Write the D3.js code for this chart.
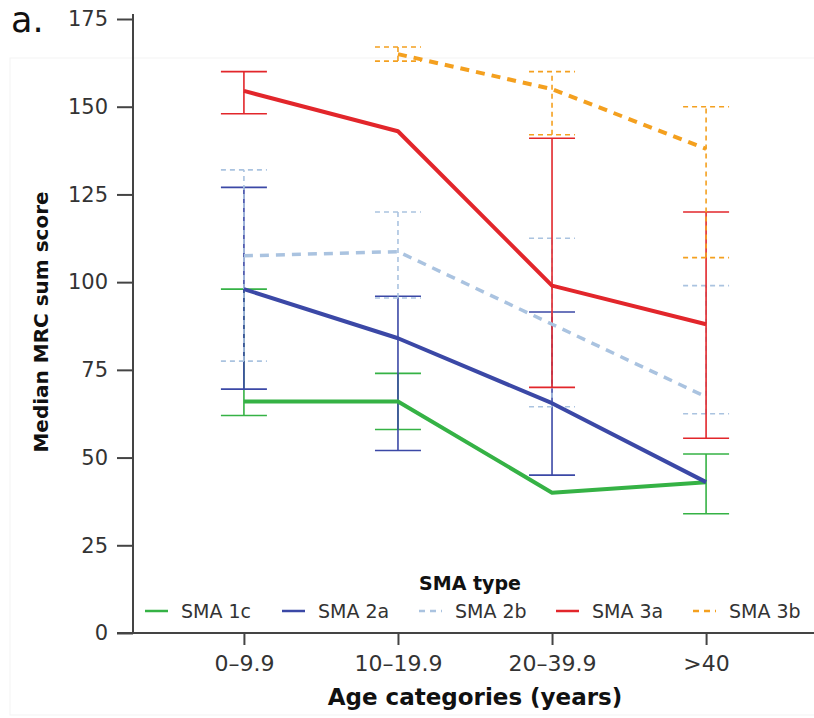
<!DOCTYPE html>
<html>
<head>
<meta charset="utf-8">
<script src="https://cdn.jsdelivr.net/npm/d3@7"></script>
<style>
  body { margin: 0; background: #fff; }
  svg { font-family: "DejaVu Sans", sans-serif; }
</style>
</head>
<body>
<svg width="814" height="718"></svg>
<script>
// age groups on the x axis
const ageGroups = ["0\u20139.9", "10\u201319.9", "20\u201339.9", ">40"];
const yTicks = [0, 25, 50, 75, 100, 125, 150, 175];

// medians and error bar ends per SMA type (null = not shown)
const sma1c = [66, 66, 40, 43];
const sma1cLo = [62, 58, null, 34];
const sma1cHi = [98, 74, null, 51];

const sma2a = [98, 84, 65.5, 43];
const sma2aLo = [69.5, 52, 45, null];
const sma2aHi = [127, 96, 91.5, null];

const sma2b = [107.5, 108.7, 88, 67.3];
const sma2bLo = [77.5, 95.5, 64.5, 62.5];
const sma2bHi = [132, 120, 112.5, 99];

const sma3a = [154.5, 143, 99, 88];
const sma3aLo = [148, null, 70, 55.5];
const sma3aHi = [160, null, 141, 120];

const sma3b = [null, 165, 155, 138];
const sma3bLo = [null, 163, 142, 107];
const sma3bHi = [null, 167, 160, 150];

const series = [
  {name: "SMA 1c", med: sma1c, lo: sma1cLo, hi: sma1cHi, color: "#35b245", dash: null, w: 4},
  {name: "SMA 2a", med: sma2a, lo: sma2aLo, hi: sma2aHi, color: "#3b48a6", dash: null, w: 4},
  {name: "SMA 2b", med: sma2b, lo: sma2bLo, hi: sma2bHi, color: "#aac3e0", dash: "9,7", w: 3.5},
  {name: "SMA 3a", med: sma3a, lo: sma3aLo, hi: sma3aHi, color: "#e2262b", dash: null, w: 4},
  {name: "SMA 3b", med: sma3b, lo: sma3bLo, hi: sma3bHi, color: "#f4a01f", dash: "9,7", w: 4}
];

let svg = d3.select("svg");

let x = d3.scalePoint()
    .domain(ageGroups)
    .range([133, 817])
    .padding(0.72);

let y = d3.scaleLinear()
    .domain([0, 175])
    .range([633, 19]);

// faint frame from the original figure
svg.append("rect")
    .attr("x", 10).attr("y", 58)
    .attr("width", 820).attr("height", 657)
    .attr("fill", "none")
    .attr("stroke", "#f3f3f3");

// y axis
let yAxis = svg.append("g")
    .attr("transform", "translate(133,0)")
    .call(d3.axisLeft(y).tickValues(yTicks).tickSize(16).tickPadding(9));
yAxis.select(".domain").attr("d", "M-16,633H0V14").attr("stroke", "#444").attr("stroke-width", 2);
yAxis.selectAll(".tick line").attr("stroke", "#444").attr("stroke-width", 2);
yAxis.selectAll(".tick text").attr("font-size", 21).attr("fill", "#333")
    .attr("font-family", "DejaVu Sans, sans-serif");

// x axis
let xAxis = svg.append("g")
    .attr("transform", "translate(0,633)")
    .call(d3.axisBottom(x).tickSize(12).tickPadding(10).tickSizeOuter(0));
xAxis.select(".domain").attr("d", "M133,0H814").attr("stroke", "#444").attr("stroke-width", 2);
xAxis.selectAll(".tick line").attr("stroke", "#444").attr("stroke-width", 2);
xAxis.selectAll(".tick text").attr("font-size", 22).attr("fill", "#333")
    .attr("font-family", "DejaVu Sans, sans-serif");

// axis titles
svg.append("text")
    .attr("transform", "translate(48,322) rotate(-90)")
    .attr("text-anchor", "middle")
    .attr("font-size", 20).attr("font-weight", "bold").attr("fill", "#111")
    .text("Median MRC sum score");

svg.append("text")
    .attr("x", 475).attr("y", 705)
    .attr("text-anchor", "middle")
    .attr("font-size", 23).attr("font-weight", "bold").attr("fill", "#111")
    .text("Age categories (years)");

svg.append("text")
    .attr("x", 11).attr("y", 32)
    .attr("font-size", 35).attr("fill", "#111")
    .text("a.");

// error bars
const capHalf = 23;
series.forEach(s => {
  let g = svg.append("g")
      .attr("stroke", s.color)
      .attr("stroke-width", 1.6)
      .attr("stroke-dasharray", s.dash ? "5,4" : null)
      .attr("fill", "none");
  ageGroups.forEach((a, i) => {
    if (s.lo[i] == null) return;
    let cx = x(a);
    g.append("line").attr("x1", cx).attr("x2", cx).attr("y1", y(s.lo[i])).attr("y2", y(s.hi[i]));
    g.append("line").attr("x1", cx - capHalf).attr("x2", cx + capHalf).attr("y1", y(s.lo[i])).attr("y2", y(s.lo[i]));
    g.append("line").attr("x1", cx - capHalf).attr("x2", cx + capHalf).attr("y1", y(s.hi[i])).attr("y2", y(s.hi[i]));
  });
});

// median lines
let line = d3.line()
    .defined(d => d.v != null)
    .x(d => x(d.a))
    .y(d => y(d.v));

series.forEach(s => {
  svg.append("path")
      .datum(ageGroups.map((a, i) => ({a: a, v: s.med[i]})))
      .attr("d", line)
      .attr("fill", "none")
      .attr("stroke", s.color)
      .attr("stroke-width", s.w)
      .attr("stroke-dasharray", s.dash)
      .attr("stroke-linejoin", "round");
});

// legend
svg.append("text")
    .attr("x", 470).attr("y", 590)
    .attr("text-anchor", "middle")
    .attr("font-size", 19).attr("font-weight", "bold").attr("fill", "#111")
    .text("SMA type");

let legend = svg.append("g");
series.forEach((s, i) => {
  let lx = 145 + i * 137;
  legend.append("line")
      .attr("x1", lx).attr("x2", lx + 23)
      .attr("y1", 611).attr("y2", 611)
      .attr("stroke", s.color)
      .attr("stroke-width", 2.5)
      .attr("stroke-dasharray", s.dash ? "6,5" : null);
  legend.append("text")
      .attr("x", lx + 36).attr("y", 618)
      .attr("font-size", 19).attr("fill", "#333")
      .text(s.name);
});
</script>
</body>
</html>
